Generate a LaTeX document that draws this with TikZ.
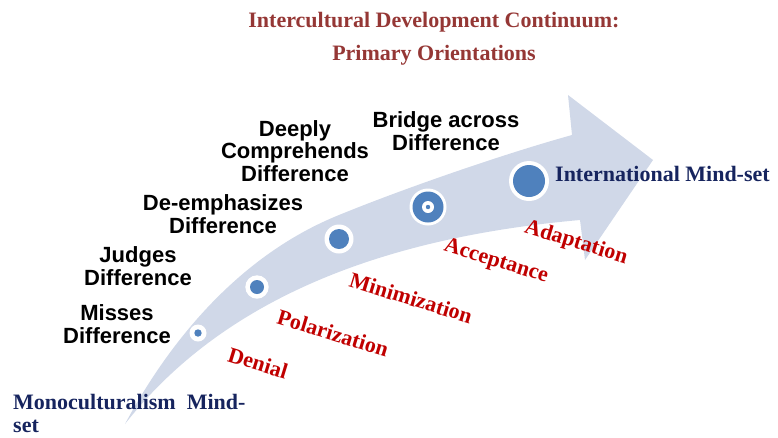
\documentclass[tikz,border=0pt]{standalone}
\usepackage{fontspec}
\setmainfont{Liberation Serif}
\setsansfont{Liberation Sans}
\definecolor{arrowColor}{RGB}{208,216,232}
\definecolor{dotColor}{RGB}{79,129,189}
\definecolor{stageColor}{RGB}{192,0,0}
\definecolor{titleColor}{RGB}{149,55,53}
\definecolor{mindsetColor}{RGB}{22,36,94}
\tikzstyle{canvas} = [x = 1pt, y = -1pt]
\tikzstyle{arrowBody} = [fill=arrowColor]
\tikzstyle{titleText} = [font=\fontsize{22}{22}\selectfont\bfseries, text=titleColor, inner sep=0]
\tikzstyle{behaviourText} = [font=\fontsize{22}{22.5}\selectfont\sffamily\bfseries, align=center, inner sep=0]
\tikzstyle{stageText} = [font=\fontsize{22}{22}\selectfont\bfseries, text=stageColor, rotate=-17, inner sep=0]
\tikzstyle{mindsetText} = [font=\fontsize{22}{23}\selectfont\bfseries, text=mindsetColor, align=left, inner sep=0]
\newcommand{\ringDot}[4]{\fill [white] (#1,#2) circle (#3); \fill [dotColor] (#1,#2) circle (#4);}
\newcommand{\behaviourLabel}[4]{\node [behaviourText] (#1) at (#2,#3) {#4};}
\newcommand{\stageLabel}[4]{\node [stageText] (#1) at (#2,#3) {#4};}

\begin{document}
\begin{tikzpicture}[canvas]
              \useasboundingbox (0,0) rectangle (778,437);
              \fill [arrowBody] (125,424) .. controls (170,340) and (240,255) .. (339,215)
                .. controls (400,190) and (500,155) .. (572,135)
                -- (568,95) -- (653,160) -- (585,260) -- (580,220)
                .. controls (400,236) and (230,290) .. (125,424) -- cycle;

              \ringDot{198}{333}{8.5}{3.7}
              \ringDot{257}{287}{11.7}{7}
              \ringDot{339}{239}{14.5}{10}
              \ringDot{428}{207}{18.5}{15.5}
              \ringDot{428}{207}{6}{2.2}
              \ringDot{529}{181}{20}{16}

              \node [titleText, anchor=base] (titleTop) at (434,27) {Intercultural Development Continuum:};
              \node [titleText, anchor=base] (titleBottom) at (434,60) {Primary Orientations};

              \behaviourLabel{misses}{117}{324}{Misses\\Difference}
              \behaviourLabel{judges}{138}{266}{Judges\\Difference}
              \behaviourLabel{deemphasizes}{223}{214}{De-emphasizes\\Difference}
              \behaviourLabel{comprehends}{295}{151}{Deeply\\Comprehends\\Difference}
              \behaviourLabel{bridge}{446}{131}{Bridge across\\Difference}

              \stageLabel{denial}{258}{363}{Denial}
              \stageLabel{polarization}{333}{333}{Polarization}
              \stageLabel{minimization}{411}{298}{Minimization}
              \stageLabel{acceptance}{496}{262}{Acceptance}
              \stageLabel{adaptation}{576}{243}{Adaptation}

              \node [mindsetText, anchor=base west] (international) at (555,181) {International Mind-set};
              \node [mindsetText, anchor=west] (monocultural) at (13,413) {Monoculturalism\ \ Mind-\\set};
            \end{tikzpicture}
\end{document}
